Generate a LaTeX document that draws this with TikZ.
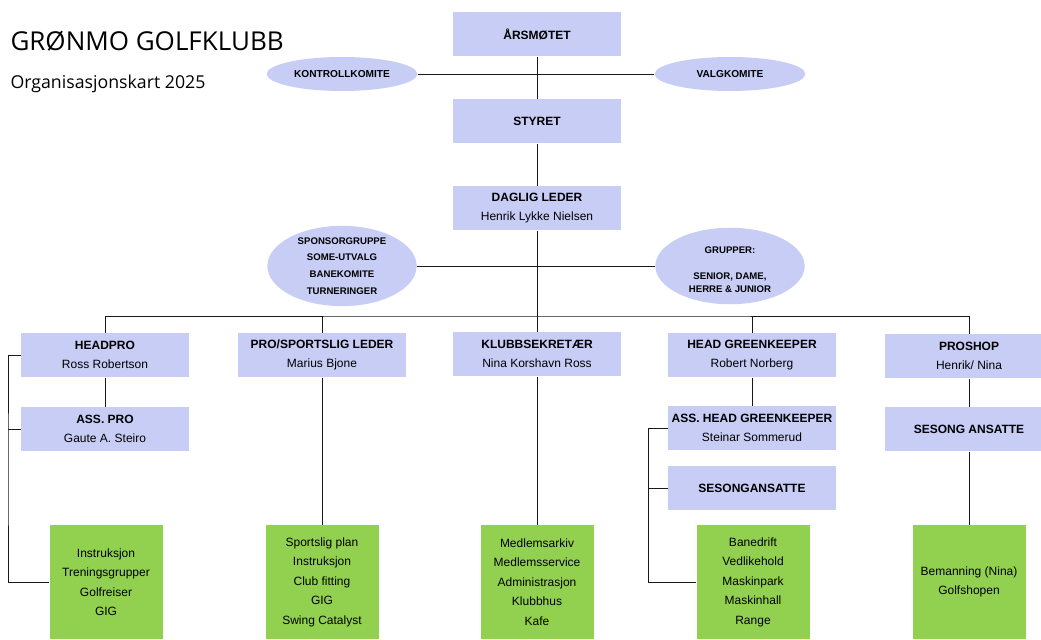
\documentclass[tikz,border=0pt]{standalone}
\usepackage{fontspec}
\setmainfont{Liberation Sans}
\newfontfamily\titlefont{Open Sans}
\usetikzlibrary{shapes.geometric}
\definecolor{boxblue}{RGB}{200,205,245}
\definecolor{boxgreen}{RGB}{146,208,80}
\tikzset{every picture/.style={line width=0.75pt}}
\tikzset{
  unit/.style={fill=boxblue, minimum width=126pt, minimum height=33pt, inner sep=0.75pt, align=center, font=\fontsize{9}{14}\selectfont},
  komite/.style={ellipse, fill=boxblue, inner sep=0pt, minimum width=113pt, minimum height=25.5pt, font=\bfseries\fontsize{7.6}{10}\selectfont},
  gruppe/.style={ellipse, fill=boxblue, inner sep=0pt, minimum width=112pt, minimum height=53pt, align=center, font=\bfseries\fontsize{7.2}{12.5}\selectfont},
  task/.style={fill=boxgreen, minimum width=84.75pt, minimum height=85.5pt, inner sep=0.75pt, align=center, font=\fontsize{9}{14.6}\selectfont},
  conn/.style={draw=black!90, line width=0.75pt}
}

\begin{document}
\begin{tikzpicture}[x=0.75pt,y=0.75pt,yscale=-1,xscale=1]
\useasboundingbox (0,0) rectangle (1041,639);

% Text Node
\node (title) [anchor=base west, inner sep=0pt, font=\titlefont\fontsize{19.5}{24}\selectfont] at (10,50) {GRØNMO GOLFKLUBB};
% Text Node
\node (subtitle) [anchor=base west, inner sep=0pt, font=\titlefont\fontsize{13.3}{16}\selectfont] at (10,88) {Organisasjonskart 2025};

%Shape: Rectangle
\node (aars) [unit] at (537,34) {\textbf{ÅRSMØTET}};
%Shape: Rectangle
\node (styret) [unit] at (537,121) {\textbf{STYRET}};
%Shape: Rectangle
\node (daglig) [unit] at (537,208) {\textbf{DAGLIG LEDER}\\Henrik Lykke Nielsen};

%Shape: Ellipse
\node (kontroll) [komite] at (342,74) {KONTROLLKOMITE};
%Shape: Ellipse
\node (valg) [komite] at (730,74) {VALGKOMITE};
%Shape: Ellipse
\node (sponsor) [gruppe] at (342,266) {SPONSORGRUPPE\\SOME-UTVALG\\BANEKOMITE\\TURNERINGER};
%Shape: Ellipse
\node (grupper) [gruppe] at (730,266) {\rule{0pt}{11pt}GRUPPER:\\[7pt]SENIOR, DAME,\\[-2.5pt]HERRE \& JUNIOR};

%Shape: Rectangle
\node (headpro) [unit] at (105,355) {\textbf{HEADPRO}\\Ross Robertson};
%Shape: Rectangle
\node (asspro) [unit] at (105,429) {\textbf{ASS. PRO}\\Gaute A. Steiro};
%Shape: Rectangle
\node (sport) [unit] at (322,355) {\textbf{PRO/SPORTSLIG LEDER}\\Marius Bjone};
%Shape: Rectangle
\node (sekr) [unit] at (537,354) {\textbf{KLUBBSEKRETÆR}\\Nina Korshavn Ross};
%Shape: Rectangle
\node (hgk) [unit] at (752,355) {\textbf{HEAD GREENKEEPER}\\Robert Norberg};
%Shape: Rectangle
\node (asshgk) [unit] at (752,428) {\textbf{ASS. HEAD GREENKEEPER}\\Steinar Sommerud};
%Shape: Rectangle
\node (sesong) [unit] at (752,488) {\textbf{SESONGANSATTE}};
%Shape: Rectangle
\node (proshop) [unit] at (969,356) {\textbf{PROSHOP}\\Henrik/ Nina};
%Shape: Rectangle
\node (shopsesong) [unit] at (969,429) {\textbf{SESONG ANSATTE}};

%Shape: Rectangle
\node (oppgpro) [task] at (106,582) {Instruksjon\\Treningsgrupper\\Golfreiser\\GIG};
%Shape: Rectangle
\node (oppgsport) [task] at (322,582) {Sportslig plan\\Instruksjon\\Club fitting\\GIG\\Swing Catalyst};
%Shape: Rectangle
\node (oppgsekr) [task] at (537,582) {Medlemsarkiv\\Medlemsservice\\Administrasjon\\Klubbhus\\Kafe};
%Shape: Rectangle
\node (oppgbane) [task] at (753,582) {Banedrift\\Vedlikehold\\Maskinpark\\Maskinhall\\Range};
%Shape: Rectangle
\node (oppgshop) [task] at (969,582) {Bemanning (Nina)\\Golfshopen};

\coordinate (bus) at (537,316);
\coordinate (brpro) at (8,470);
\coordinate (brbane) at (648,500);

%Straight Lines
\draw [conn] (kontroll.east) -- (valg.west);
\draw [conn] (aars) -- (styret);
\draw [conn] (styret) -- (daglig);
\draw [conn] (daglig) -- (bus);
\draw [conn] (sponsor.east) -- (grupper.west);
\draw [conn] (headpro.north) |- (bus) -| (proshop.north);
\draw [conn] (sport.north) -- (sport.north |- bus);
\draw [conn] (sekr.north) -- (sekr.north |- bus);
\draw [conn] (hgk.north) -- (hgk.north |- bus);
%Straight Lines
\draw [conn] (headpro) -- (asspro);
\draw [conn] (headpro.west) -| (brpro) |- (oppgpro.west);
\draw [conn] (asspro.west) -- (asspro.west -| brpro);
\draw [conn] (sport) -- (oppgsport);
\draw [conn] (sekr) -- (oppgsekr);
\draw [conn] (hgk) -- (asshgk);
\draw [conn] (asshgk.west) -| (brbane) |- (oppgbane.west);
\draw [conn] (sesong.west) -- (sesong.west -| brbane);
\draw [conn] (proshop) -- (shopsesong);
\draw [conn] (shopsesong) -- (oppgshop);

\end{tikzpicture}
\end{document}
